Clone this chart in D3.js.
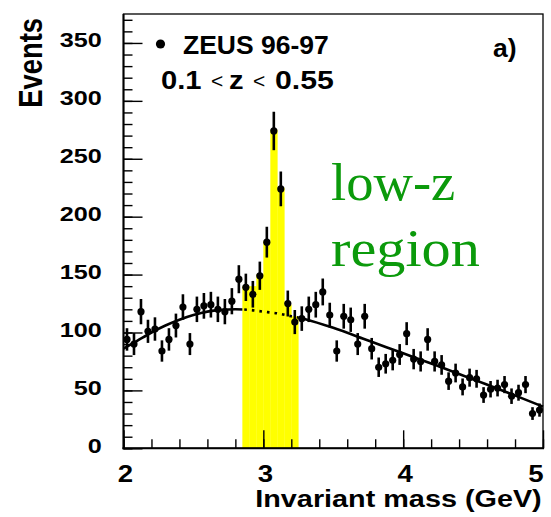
<!DOCTYPE html>
<html><head><meta charset="utf-8">
<script src="https://cdn.jsdelivr.net/npm/d3@7"></script>
<style>body{margin:0;background:#fff}svg{display:block}</style>
</head><body>
<script>
// ---- data ----
const binCenters = [2.025,2.075,2.125,2.175,2.225,2.275,2.325,2.375,2.425,2.475,
  2.525,2.575,2.625,2.675,2.725,2.775,2.825,2.875,2.925,2.975,
  3.025,3.075,3.125,3.175,3.225,3.275,3.325,3.375,3.425,3.475,
  3.525,3.575,3.625,3.675,3.725,3.775,3.825,3.875,3.925,3.975,
  4.025,4.075,4.125,4.175,4.225,4.275,4.325,4.375,4.425,4.475,
  4.525,4.575,4.625,4.675,4.725,4.775,4.825,4.875,4.925,4.975];
const events = [94,90,118,101,103,84,94,106,122,90,
  120,123,124,120,118,127,146,139,133,149,
  178,274,224,125,109,112,120,124,135,115,
  84,114,111,90,114,86,70,73,76,81,
  99,77,75,94,75,72,58,65,53,61,
  60,46,51,52,55,45,48,55,30,33];
const errors = [9.7,9.5,10.9,10,10.1,9.2,9.7,10.3,11,9.5,
  11,11.1,11.1,11,10.9,11.3,12.1,11.8,11.5,12.2,
  13.3,16.6,15,11.2,10.4,10.6,11,11.1,11.6,10.7,
  9.2,10.7,10.5,9.5,10.7,9.3,8.4,8.5,8.7,9,
  9.9,8.8,8.7,9.7,8.7,8.5,7.6,8.1,7.3,7.8,
  7.7,6.8,7.1,7.2,7.4,6.7,6.9,7.4,5.5,5.7];
const bandEdges = [2.85,2.90,2.95,3.00,3.05,3.10,3.15,3.20,3.25];
const bandHeights = [140,140,150,179,275,225,124,114];
const fitMass  = [2.0,2.1,2.2,2.3,2.4,2.5,2.6,2.7,2.8,2.9,3.0,3.1,3.2,3.3,3.5,3.75,4.0,4.25,4.5,4.75,5.0];
const fitValue = [86,93,100,106,111,115,118,119.5,120,119.5,118,116.5,114,111.5,104,93,82,71,59.5,48,36];
const signalWindow = [2.85,3.25];
const xTicksMajor = [2,3,4,5];
const yTicksMajor = [0,50,100,150,200,250,300,350];

// ---- layout ----
const W = 551, H = 517;
const L = 123.5, R = 543, T = 14, B = 448.3;
const SX = 1.2; // horizontal stretch of axis lettering

const svg = d3.select("body").append("svg").attr("width", W).attr("height", H);
const x = d3.scaleLinear().domain([2,5]).range([L,R]);
const y = d3.scaleLinear().domain([0,375]).range([B,T]);

// yellow signal band
const band = bandHeights.map((h,i)=>({x0:bandEdges[i], x1:bandEdges[i+1], h}));
svg.append("g").selectAll("rect").data(band).join("rect")
  .attr("x", d=>x(d.x0)).attr("width", d=>x(d.x1)-x(d.x0)+0.3)
  .attr("y", d=>y(d.h)).attr("height", d=>y(0)-y(d.h))
  .attr("fill", "#ffff00");

// fit curve: solid outside window, dotted inside
const defs = svg.append("defs");
defs.append("clipPath").attr("id","outL").append("rect")
  .attr("x", L-5).attr("y", 0).attr("width", x(signalWindow[0])-(L-5)).attr("height", H);
defs.append("clipPath").attr("id","outR").append("rect")
  .attr("x", x(signalWindow[1])).attr("y", 0).attr("width", R+5-x(signalWindow[1])).attr("height", H);
defs.append("clipPath").attr("id","inW").append("rect")
  .attr("x", x(signalWindow[0])).attr("y", 0).attr("width", x(signalWindow[1])-x(signalWindow[0])).attr("height", H);
const fitPts = fitMass.map((m,i)=>[m, fitValue[i]]);
const line = d3.line().x(d=>x(d[0])).y(d=>y(d[1])).curve(d3.curveCatmullRom);
["outL","outR"].forEach(id=>{
  svg.append("path").attr("d", line(fitPts)).attr("clip-path", `url(#${id})`)
    .attr("fill","none").attr("stroke","#000").attr("stroke-width",2.6);
});
svg.append("path").attr("d", line(fitPts)).attr("clip-path","url(#inW)")
  .attr("fill","none").attr("stroke","#000").attr("stroke-width",2.6)
  .attr("stroke-dasharray","2.6,5");

// data points with error bars
const pts = binCenters.map((m,i)=>({m, v:events[i], e:errors[i]}));
const gp = svg.append("g");
gp.selectAll("line").data(pts).join("line")
  .attr("x1", d=>x(d.m)).attr("x2", d=>x(d.m))
  .attr("y1", d=>y(d.v+d.e)).attr("y2", d=>y(d.v-d.e))
  .attr("stroke","#000").attr("stroke-width",2.6);
gp.selectAll("circle").data(pts).join("circle")
  .attr("cx", d=>x(d.m)).attr("cy", d=>y(d.v)).attr("r",3.6).attr("fill","#000");

// frame
svg.append("rect").attr("x",L).attr("y",T).attr("width",R-L).attr("height",B-T)
  .attr("fill","none").attr("stroke","#000").attr("stroke-width",1.3);
svg.append("line").attr("x1",L).attr("x2",L).attr("y1",T).attr("y2",B+1).attr("stroke","#000").attr("stroke-width",2);
svg.append("line").attr("x1",L-1).attr("x2",R+1).attr("y1",B).attr("y2",B).attr("stroke","#000").attr("stroke-width",2);

const font = "'Liberation Sans', Arial, Helvetica, sans-serif";

// y axis
svg.append("g").attr("transform",`translate(${L},0)`)
  .call(d3.axisLeft(y).tickValues(d3.range(0,376,10)).tickSize(-9).tickFormat(""))
  .call(g=>g.select(".domain").remove())
  .call(g=>g.selectAll("line").attr("stroke-width",1.4));
const yAx = svg.append("g").attr("transform",`translate(${L},0)`)
  .call(d3.axisLeft(y).tickValues(yTicksMajor).tickSize(-19).tickPadding(0))
  .call(g=>g.select(".domain").remove())
  .call(g=>g.selectAll("line").attr("stroke-width",1.4));
yAx.selectAll("text")
  .attr("x",0).attr("y",0).attr("dy",0)
  .attr("transform",`translate(-21.8,4) scale(${SX},1)`)
  .attr("text-anchor","end")
  .style("font-family",font).style("font-weight","bold").style("font-size","21px").attr("fill","#000");

// x axis
svg.append("g").attr("transform",`translate(0,${B})`)
  .call(d3.axisBottom(x).tickValues(d3.range(2,5.001,0.2)).tickSize(-9).tickFormat(""))
  .call(g=>g.select(".domain").remove())
  .call(g=>g.selectAll("line").attr("stroke-width",1.4));
const xAx = svg.append("g").attr("transform",`translate(0,${B})`)
  .call(d3.axisBottom(x).tickValues(xTicksMajor).tickSize(-18).tickFormat(d3.format("d")))
  .call(g=>g.select(".domain").remove())
  .call(g=>g.selectAll("line").attr("stroke-width",1.4));
xAx.selectAll("text")
  .attr("x",0).attr("y",0).attr("dy",0)
  .attr("transform",d=>`translate(${d===5?-7.5:1.5},33.4) scale(${SX},1)`)
  .attr("text-anchor","middle")
  .style("font-family",font).style("font-weight","bold").style("font-size","23px").attr("fill","#000");

// axis titles
svg.append("text").text("Invariant mass (GeV)")
  .attr("transform",`translate(541.7,507) scale(${SX},1)`)
  .attr("text-anchor","end")
  .style("font-family",font).style("font-weight","bold").style("font-size","24px");
svg.append("text").text("Events")
  .attr("transform",`translate(41.7,18) rotate(-90) scale(1,${SX})`)
  .attr("text-anchor","end")
  .style("font-family",font).style("font-weight","bold").style("font-size","27.4px");

// legend
const txt = (s,xx,yy,size,weight,sx) => svg.append("text").text(s)
  .attr("transform",`translate(${xx},${yy}) scale(${sx||1},1)`)
  .style("font-family",font).style("font-weight",weight||"bold").style("font-size",size+"px");
svg.append("circle").attr("cx",160.5).attr("cy",44).attr("r",4.6).attr("fill","#000");
txt("ZEUS 96-97",183,54,26.5);
txt("0.1",161,89,26.5,"bold",1.1);
txt("<",211,88,21,"normal");
txt("z",229,89,26.5,"bold",1.1);
txt("<",253,88,21,"normal");
txt("0.55",275,89,26.5,"bold",1.14);
txt("a)",493,57,26.5);

// low-z region annotation
const serif = "'Liberation Serif', 'Times New Roman', serif";
svg.append("text").text("low-z").attr("transform","translate(331,200) scale(1.03,1)")
  .attr("fill","#0b9a0b").style("font-family",serif).style("font-size","53px");
svg.append("text").text("region").attr("transform","translate(331,266) scale(1.1,1)")
  .attr("fill","#0b9a0b").style("font-family",serif).style("font-size","53px");
</script>
</body></html>
